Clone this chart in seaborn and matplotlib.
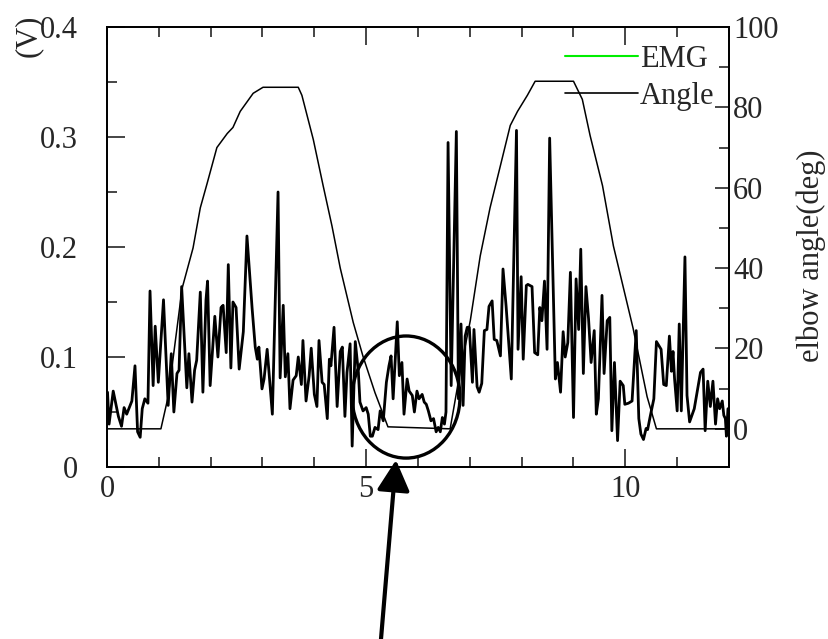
import numpy as np
import pandas as pd
import seaborn as sns
import matplotlib.pyplot as plt
from matplotlib.lines import Line2D
from matplotlib.patches import Ellipse, FancyArrowPatch
from matplotlib.ticker import MultipleLocator

# EMG signal (V)
emg_t = [0.01, 0.04, 0.12, 0.22, 0.28, 0.33, 0.38, 0.48, 0.54, 0.59, 0.64, 0.68, 0.73, 0.79,
         0.83, 0.89, 0.93, 0.99, 1.09, 1.18, 1.24, 1.29, 1.35, 1.39, 1.44, 1.54, 1.58, 1.64,
         1.69, 1.73, 1.80, 1.85, 1.91, 1.94, 1.99,
         2.08, 2.14, 2.20, 2.24, 2.30, 2.34, 2.39, 2.43, 2.49, 2.55, 2.63, 2.70, 2.80, 2.86,
         2.90, 2.93, 2.99, 3.03, 3.09, 3.19, 3.30, 3.34, 3.40, 3.44, 3.49, 3.53, 3.59, 3.65,
         3.69, 3.75, 3.78, 3.84, 3.90, 3.94, 4.00, 4.05, 4.09,
         4.15, 4.19, 4.25, 4.29, 4.32, 4.38, 4.44, 4.50, 4.54, 4.59, 4.63, 4.69, 4.73, 4.79,
         4.85, 4.88, 4.94, 5.00, 5.04, 5.08, 5.12, 5.17, 5.23, 5.27, 5.33, 5.39, 5.44, 5.48,
         5.52, 5.60, 5.64, 5.69, 5.73, 5.79, 5.83, 5.89, 5.93, 5.98, 6.02, 6.08, 6.12,
         6.16, 6.20, 6.25, 6.30, 6.35, 6.39, 6.43, 6.47, 6.51, 6.54, 6.58, 6.64, 6.74, 6.78,
         6.83, 6.87, 6.91, 6.95, 6.99, 7.05, 7.08, 7.14, 7.18, 7.23, 7.28, 7.33, 7.37, 7.43,
         7.47, 7.52, 7.59, 7.64, 7.70, 7.80, 7.90, 7.93, 7.99, 8.03, 8.09, 8.12, 8.20,
         8.25, 8.31, 8.35, 8.39, 8.44, 8.49, 8.54, 8.65, 8.69, 8.75, 8.80, 8.84, 8.89, 8.94,
         9.00, 9.05, 9.10, 9.14, 9.19, 9.24, 9.29, 9.34, 9.40, 9.44, 9.48, 9.55, 9.59, 9.65,
         9.70, 9.74, 9.79, 9.85, 9.90, 9.96, 9.99, 10.06, 10.13,
         10.21, 10.26, 10.30, 10.35, 10.40, 10.43, 10.48, 10.55, 10.60, 10.69, 10.74, 10.79,
         10.85, 10.89, 10.92, 10.95, 11.00, 11.04, 11.08, 11.15, 11.19, 11.24, 11.33, 11.45,
         11.50, 11.54, 11.59, 11.64, 11.69, 11.74, 11.78, 11.82, 11.87, 11.90, 11.93, 11.95,
         11.98]
emg_v = [0.068, 0.039, 0.069, 0.046, 0.037, 0.054, 0.048, 0.060, 0.092, 0.032, 0.027, 0.053,
         0.062, 0.058, 0.160, 0.074, 0.128, 0.077, 0.152, 0.056, 0.103, 0.050, 0.085, 0.088,
         0.164, 0.072, 0.103, 0.059, 0.088, 0.097, 0.159, 0.068, 0.152, 0.169, 0.074,
         0.137, 0.100, 0.145, 0.147, 0.104, 0.184, 0.090, 0.150, 0.145, 0.089, 0.123, 0.210,
         0.144, 0.109, 0.098, 0.109, 0.071, 0.080, 0.107, 0.048, 0.250, 0.081, 0.147, 0.082,
         0.103, 0.053, 0.079, 0.083, 0.100, 0.075, 0.115, 0.060, 0.083, 0.108, 0.066, 0.055,
         0.115,
         0.077, 0.075, 0.044, 0.098, 0.092, 0.127, 0.055, 0.105, 0.109, 0.046, 0.086, 0.112,
         0.019, 0.114, 0.086, 0.059, 0.051, 0.054, 0.048, 0.028, 0.028, 0.036, 0.034, 0.051,
         0.042, 0.077, 0.092, 0.101, 0.062, 0.132, 0.083, 0.095, 0.048, 0.080, 0.069, 0.065,
         0.050, 0.069, 0.062, 0.066, 0.059,
         0.057, 0.051, 0.042, 0.044, 0.032, 0.036, 0.032, 0.045, 0.039, 0.050, 0.295, 0.074,
         0.305, 0.062, 0.130, 0.056, 0.119, 0.127, 0.127, 0.077, 0.125, 0.073, 0.068, 0.076,
         0.124, 0.125, 0.146, 0.151, 0.116, 0.115, 0.101, 0.180, 0.146, 0.080, 0.306, 0.107,
         0.173, 0.098, 0.165, 0.166, 0.164,
         0.104, 0.102, 0.145, 0.133, 0.169, 0.107, 0.299, 0.080, 0.095, 0.068, 0.123, 0.100,
         0.113, 0.177, 0.045, 0.171, 0.125, 0.198, 0.085, 0.164, 0.135, 0.095, 0.124, 0.048,
         0.062, 0.156, 0.085, 0.133, 0.136, 0.033, 0.095, 0.024, 0.078, 0.074, 0.057, 0.058,
         0.060,
         0.124, 0.044, 0.030, 0.025, 0.035, 0.034, 0.046, 0.062, 0.114, 0.107, 0.075, 0.074,
         0.119, 0.087, 0.105, 0.080, 0.051, 0.130, 0.051, 0.191, 0.065, 0.041, 0.053, 0.086,
         0.089, 0.033, 0.078, 0.055, 0.078, 0.039, 0.062, 0.053, 0.060, 0.047, 0.044, 0.028,
         0.053]

# elbow angle (deg)
angle_t = [0.0, 1.04, 1.18, 1.45, 1.66, 1.80, 1.93, 2.12, 2.32, 2.43, 2.57, 2.82, 3.01, 3.69,
           3.76, 3.98, 4.17, 4.34, 4.50, 4.75, 4.94, 5.17, 5.42, 6.62, 6.81, 7.01, 7.20, 7.39,
           7.59, 7.78, 7.92, 8.11, 8.26, 9.00, 9.17, 9.32, 9.56, 9.77, 10.15, 10.42, 10.60, 12.0]
angle_deg = [0, 0, 8, 35, 45, 55, 61, 70, 73.5, 75, 79, 83.5, 85, 85,
             83, 72, 60.5, 50.5, 40, 26.5, 18, 9, 0.5, 0, 14, 27, 43, 55,
             65.5, 75.5, 79, 83, 86.5, 86.5, 82, 73, 60.5, 45.5, 25, 8, 0, 0]

legend_labels = ["EMG", "Angle"]

sns.set_style("ticks")
plt.rcParams['font.family'] = ['Liberation Serif', 'DejaVu Serif']
plt.rcParams['xtick.direction'] = 'in'
plt.rcParams['ytick.direction'] = 'in'

fig = plt.figure(figsize=(8.29, 6.39), dpi=100)
ax = fig.add_axes([107 / 829, 1 - 467 / 639, 622 / 829, 440 / 639])
ax2 = ax.twinx()

emg = pd.DataFrame({"t": emg_t, "v": emg_v})
ang = pd.DataFrame({"t": angle_t, "deg": angle_deg})
sns.lineplot(data=emg, x="t", y="v", ax=ax, color="black", lw=2.0, estimator=None, sort=False)
sns.lineplot(data=ang, x="t", y="deg", ax=ax2, color="black", lw=1.1, estimator=None, sort=False)

ax.set_xlim(0, 12)
ax.set_ylim(0, 0.4)
ax2.set_ylim(-9.5, 100)

fs = 22
ax.set_xticks([0, 5, 10], ["0", "5", "10"])
ax.set_yticks([0, 0.1, 0.2, 0.3, 0.4], ["0", "0.1", "0.2", "0.3", "0.4"])
ax.xaxis.set_minor_locator(MultipleLocator(1))
ax.yaxis.set_minor_locator(MultipleLocator(0.05))
ax.tick_params(axis="both", which="major", length=13, width=1.2, labelsize=fs, top=True, pad=6)
ax.tick_params(axis="both", which="minor", length=7, width=1.2, top=True)
ax.tick_params(axis="y", which="both", right=False)
ax.tick_params(axis="y", which="major", pad=21)

ax2.set_yticks([0, 20, 40, 60, 80, 100], ["0", "20", "40", "60", "80", "100"])
ax2.yaxis.set_minor_locator(MultipleLocator(10))
ax2.tick_params(axis="y", which="major", length=10, width=1.2, labelsize=fs, pad=3)
ax2.tick_params(axis="y", which="minor", length=7, width=1.2)

for a in (ax, ax2):
    for s in a.spines.values():
        s.set_linewidth(1.3)
        s.set_color("black")
        s.set_visible(True)

ax.set_xlabel("")
ax.set_ylabel("")
ax2.set_ylabel("")
fig.text(28 / 829, 1 - 36 / 639, "(V)", rotation=90, ha="center", va="center", fontsize=fs)
fig.text(811 / 829, 1 - 256 / 639, "elbow angle(deg)", rotation=90, ha="center", va="center", fontsize=fs)

handles = [Line2D([], [], color="#00ee00", lw=1.5), Line2D([], [], color="black", lw=1.2)]
ax2.legend(handles, legend_labels, loc="upper left", bbox_to_anchor=(0.736, 0.96),
           frameon=False, fontsize=fs, handlelength=2.4, handletextpad=0.05,
           borderpad=0, borderaxespad=0, labelspacing=0.27)

# circle around the rest period and the arrow pointing at it
ax.add_patch(Ellipse((5.77, 0.0636), 2.08, 0.111, fill=False, lw=2.4, color="black", clip_on=False))
fig.add_artist(FancyArrowPatch((381 / 829, 0.0), (396 / 829, 1 - 460 / 639),
                               transform=fig.transFigure, arrowstyle="-|>,head_length=0.75,head_width=0.4",
                               mutation_scale=25, lw=3, color="black", shrinkA=0, shrinkB=0))

fig.savefig("out.png", dpi=100)
